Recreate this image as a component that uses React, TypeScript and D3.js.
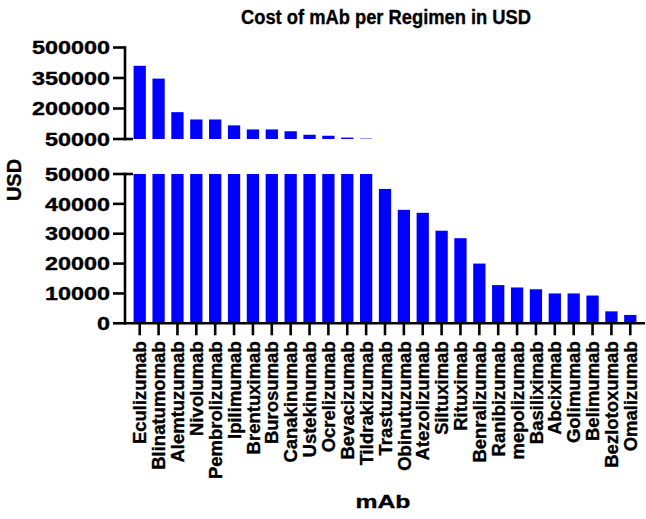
import React from "react";
import * as d3 from "d3";

const categories: string[] = [
  "Eculizumab", "Blinatumomab", "Alemtuzumab", "Nivolumab", "Pembrolizumab",
  "Ipilimumab", "Brentuximab", "Burosumab", "Canakinumab", "Ustekinumab",
  "Ocrelizumab", "Bevacizumab", "Tildrakizumab", "Trastuzumab", "Obinutuzumab",
  "Atezolizumab", "Siltuximab", "Rituximab", "Benralizumab", "Ranibizumab",
  "mepolizumab", "Basiliximab", "Abciximab", "Golimumab", "Belimumab",
  "Bezlotoxumab", "Omalizumab",
];
const costs: number[] = [
  410000, 347000, 182000, 146000, 146000,
  117000, 97000, 97000, 88000, 71000,
  66000, 57000, 52000, 45000, 38000,
  37000, 31000, 28500, 20000, 12800,
  12000, 11400, 10000, 10000, 9300,
  4000, 2800,
];
const upperTicks: number[] = [50000, 200000, 350000, 500000];
const lowerTicks: number[] = [0, 10000, 20000, 30000, 40000, 50000];

const title = "Cost of mAb per Regimen in USD";
const xTitle = "mAb";
const yTitle = "USD";

const W = 646;
const H = 519;
const FONT = "'Liberation Sans', Arial, Helvetica, sans-serif";

export default function App() {
  const axisX = 125;
  const x = d3.scalePoint<string>().domain(categories).range([axisX, 645]).padding(0.78);
  const step = x.step();
  const bw = step * 0.65;
  const yUp = d3.scaleLinear().domain([50000, 500000]).range([139, 47.5]);
  const yLo = d3.scaleLinear().domain([0, 50000]).range([323.3, 174]);
  const lw = 2.6;
  const tickLen = 12;
  const digitW = 13;

  const tickLabel = (t: number, y: number, key: string) => {
    const s = String(t);
    return (
      <text key={key} x={axisX - 15} y={y} dy="0.36em" textAnchor="end" fontSize={18.5}
        textLength={s.length * digitW} lengthAdjust="spacingAndGlyphs">{s}</text>
    );
  };

  return (
    <svg width={W} height={H} style={{ position: "absolute", left: 0, top: 0, background: "#fff" }}
      fontFamily={FONT} fontWeight="bold">
      <g stroke="#000" strokeWidth={0.35}>
        <text x={386} y={24} textAnchor="middle" fontSize={20} textLength={290}
          lengthAdjust="spacingAndGlyphs">{title}</text>
      </g>

      {/* upper bars */}
      {categories.map((c, i) =>
        costs[i] > 50000 ? (
          <rect key={"u" + c} x={(x(c) as number) - bw / 2} y={yUp(costs[i])}
            width={bw} height={yUp(50000) - yUp(costs[i])} fill="#0000ff" />
        ) : null
      )}
      {/* lower bars */}
      {categories.map((c, i) => {
        const v = Math.min(costs[i], 50000);
        return (
          <rect key={"l" + c} x={(x(c) as number) - bw / 2} y={yLo(v)}
            width={bw} height={yLo(0) - yLo(v)} fill="#0000ff" />
        );
      })}

      {/* upper y axis */}
      <line x1={axisX} x2={axisX} y1={yUp(500000) - lw / 2} y2={yUp(50000) + lw / 2} stroke="#000" strokeWidth={lw} />
      {upperTicks.map((t) => (
        <line key={"ut" + t} x1={axisX - tickLen} x2={t === 50000 ? axisX + 8 : axisX} y1={yUp(t)} y2={yUp(t)} stroke="#000" strokeWidth={lw} />
      ))}

      {/* lower y axis */}
      <line x1={axisX} x2={axisX} y1={yLo(50000) - lw / 2} y2={yLo(0) + lw / 2} stroke="#000" strokeWidth={lw} />
      {lowerTicks.map((t) => (
        <line key={"lt" + t} x1={axisX - tickLen} x2={t === 50000 ? axisX + 8 : axisX} y1={yLo(t)} y2={yLo(t)} stroke="#000" strokeWidth={lw} />
      ))}

      {/* x axis */}
      <line x1={axisX} x2={645} y1={yLo(0)} y2={yLo(0)} stroke="#000" strokeWidth={lw} />
      {categories.map((c) => {
        const cx = x(c) as number;
        return (
          <line key={"xt" + c} x1={cx} x2={cx} y1={yLo(0)} y2={yLo(0) + 12} stroke="#000" strokeWidth={lw} />
        );
      })}

      <g stroke="#000" strokeWidth={0.35}>
        {upperTicks.map((t) => tickLabel(t, yUp(t), "utl" + t))}
        {lowerTicks.map((t) => tickLabel(t, yLo(t), "ltl" + t))}
        {categories.map((c) => {
          const cx = x(c) as number;
          return (
            <text key={"xl" + c} transform={`translate(${cx},${yLo(0) + 18}) rotate(-90)`} dy="0.36em"
              textAnchor="end" fontSize={18.5}>{c}</text>
          );
        })}
        <text transform={`translate(14,180) rotate(-90)`} dy="0.36em" textAnchor="middle" fontSize={20}>{yTitle}</text>
        <text x={383} y={508} textAnchor="middle" fontSize={18.5} textLength={55}
          lengthAdjust="spacingAndGlyphs">{xTitle}</text>
      </g>
    </svg>
  );
}
